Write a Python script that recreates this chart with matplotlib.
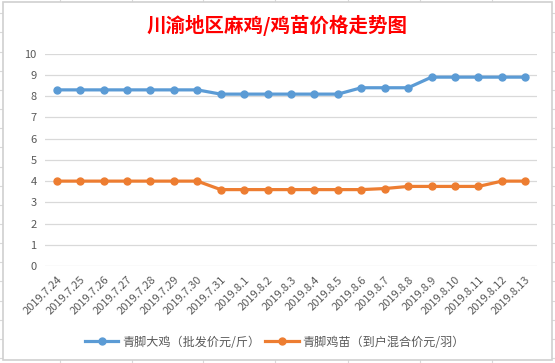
import matplotlib.pyplot as plt
from matplotlib.lines import Line2D
from matplotlib.patches import Rectangle

plt.rcParams['font.family'] = ['Noto Sans CJK SC', 'DejaVu Sans']

dates = ["2019.7.24", "2019.7.25", "2019.7.26", "2019.7.27", "2019.7.28", "2019.7.29",
         "2019.7.30", "2019.7.31", "2019.8.1", "2019.8.2", "2019.8.3", "2019.8.4",
         "2019.8.5", "2019.8.6", "2019.8.7", "2019.8.8", "2019.8.9", "2019.8.10",
         "2019.8.11", "2019.8.12", "2019.8.13"]

big_chicken = [8.3, 8.3, 8.3, 8.3, 8.3, 8.3, 8.3, 8.1, 8.1, 8.1, 8.1, 8.1,
               8.1, 8.4, 8.4, 8.4, 8.9, 8.9, 8.9, 8.9, 8.9]
chick = [4.0, 4.0, 4.0, 4.0, 4.0, 4.0, 4.0, 3.6, 3.6, 3.6, 3.6, 3.6,
         3.6, 3.6, 3.65, 3.75, 3.75, 3.75, 3.75, 4.0, 4.0]

label1 = "青脚大鸡（批发价元/斤）"
label2 = "青脚鸡苗（到户混合价元/羽）"
title = "川渝地区麻鸡/鸡苗价格走势图"

W, H = 555, 363
fig = plt.figure(figsize=(W / 100, H / 100), dpi=100)


def px(x, y):
    # pixel coords (top-left origin) -> figure fraction
    return x / W, 1 - y / H


# excel cell grid behind the chart
cell_col = '#D9D9D9'
for x in [60, 131.7, 203.3, 275, 347.6, 420, 492]:
    fig.add_artist(Line2D([x / W, x / W], [0, 1], color=cell_col, lw=0.8, zorder=-3))
y = 13.3
while y < H:
    fig.add_artist(Line2D([0, 1], [1 - y / H, 1 - y / H], color=cell_col, lw=0.8, zorder=-3))
    y += 19.15

x0, y0 = px(3.3, 360)
x1, y1 = px(552.3, 2.3)
fig.add_artist(Rectangle((x0, y0), x1 - x0, y1 - y0, transform=fig.transFigure,
                         facecolor='white', edgecolor='#D0D0D0', lw=1.2, zorder=-1))

ax = fig.add_axes([45 / W, (H - 266) / H, (537 - 45) / W, (266 - 53.8) / H])
ax.set_facecolor('none')

xs = range(len(dates))
ax.plot(xs, big_chicken, color='#5B9BD5', lw=2.3, marker='o', markersize=5, label=label1)
ax.plot(xs, chick, color='#ED7D31', lw=2.3, marker='o', markersize=5, label=label2)

ax.set_ylim(0, 10)
ax.set_yticks(range(0, 11))
ax.set_xlim(-0.5, len(dates) - 0.5)
ax.set_xticks(list(xs))
ax.set_xticklabels(dates, rotation=45, ha='right', va='top', rotation_mode='anchor')
ax.tick_params(axis='both', length=0, colors='#595959')
ax.tick_params(axis='x', pad=6, labelsize=8)
ax.tick_params(axis='y', pad=6, labelsize=8)
ax.grid(axis='y', color='#D9D9D9', lw=0.9)
ax.set_axisbelow(True)
for s in ax.spines.values():
    s.set_visible(False)

fig.text(277 / W, 1 - 25 / H, title, color='#FF0000', fontsize=14, fontweight='bold',
         ha='center', va='center')

fig.legend(loc='center', bbox_to_anchor=(0.495, 1 - 342 / H), ncol=2, frameon=False,
           fontsize=8.7, handlelength=2.8, columnspacing=0.4, handletextpad=0.3,
           labelcolor='#595959')

fig.savefig('out.png', dpi=100, facecolor='white')
